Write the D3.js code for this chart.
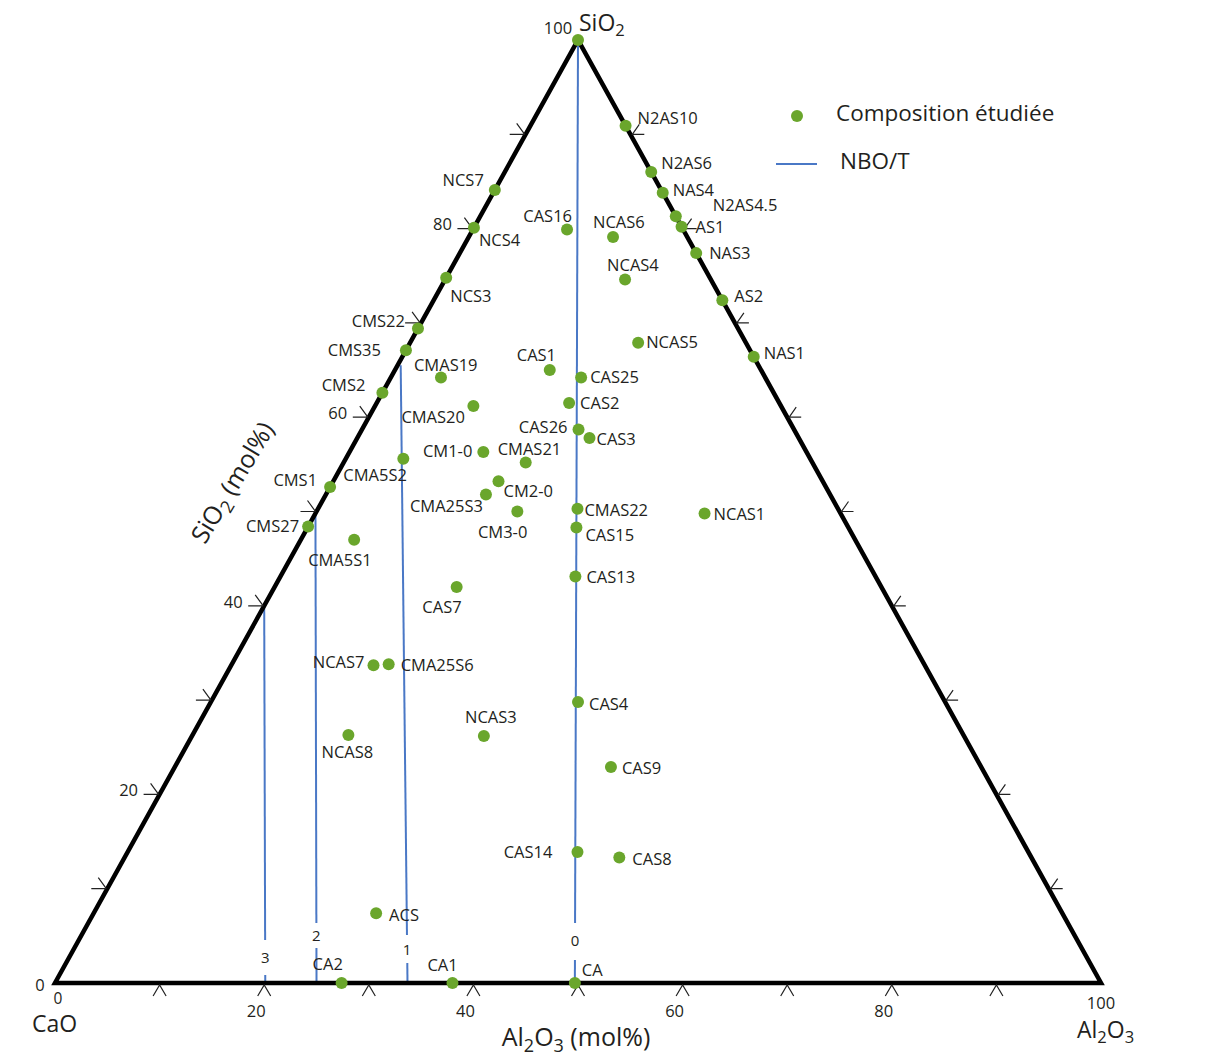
<!DOCTYPE html>
<html><head><meta charset="utf-8">
<script src="https://cdn.jsdelivr.net/npm/d3@7"></script>
<style>
html,body{margin:0;padding:0;background:#fff;}
svg{display:block;font-family:"Open Sans",sans-serif;}
</style></head>
<body>
<svg id="chart" width="1208" height="1057"></svg>
<script>
// ---------- DATA ----------
const names = ["SiO2","N2AS10","N2AS6","NAS4","N2AS4.5","AS1","NAS3","AS2","NAS1",
  "NCS7","NCS4","NCS3","CMS22","CMS35","CMS2","CMS1","CMS27",
  "CAS16","NCAS6","NCAS4","NCAS5","CAS1","CAS25","CMAS19","CMAS20","CAS2","CAS26","CAS3",
  "CM1-0","CMAS21","CMA5S2","CM2-0","CMA25S3","CM3-0","CMAS22","CAS15","CAS13","NCAS1",
  "CMA5S1","CAS7","NCAS7","CMA25S6","NCAS8","NCAS3","CAS4","CAS9","CAS14","CAS8","ACS",
  "CA2","CA1","CA"];
const sio2 = [100,90.9,86.0,83.8,81.3,80.2,77.4,72.4,66.4,
  84.1,80.1,74.8,69.4,67.1,62.6,52.6,48.4,
  79.9,79.1,74.6,67.9,65.0,64.2,64.2,61.2,61.5,58.7,57.8,
  56.3,55.2,55.6,53.2,51.8,50.0,50.3,48.3,43.1,49.8,
  47.0,42.0,33.7,33.8,26.3,26.2,29.8,22.9,13.9,13.3,7.4,
  0,0,0];
const al2o3 = [0,9.1,14.0,16.2,18.7,19.8,22.6,27.6,33.6,
  0,0,0,0,0,0,0,0,
  9.0,13.8,17.2,21.8,14.8,18.2,4.8,9.4,18.4,20.7,22.2,
  12.8,17.4,5.5,15.8,15.3,19.2,24.8,25.7,28.2,37.2,
  5.1,17.4,13.6,15.0,14.9,27.9,35.1,41.7,43.0,47.3,27.0,
  27.4,38.0,49.7];
const cao = [0,0,0,0,0,0,0,0,0,
  15.9,19.9,25.2,30.6,32.9,37.4,47.4,51.6,
  11.1,7.1,8.2,10.3,20.2,17.6,31.0,29.4,20.1,20.6,20.0,
  30.9,27.4,38.9,31.0,32.9,30.8,24.9,26.0,28.7,13.0,
  47.9,40.6,52.7,51.2,58.8,45.9,35.1,35.4,43.1,39.4,65.6,
  72.6,62.0,50.3];
// NBO/T iso-lines: value, top end [SiO2, Al2O3], bottom end [SiO2, Al2O3]
const nboValues = [0,1,2,3];
const nboTop = [[100,0],[65.5,0.3],[49.8,0],[40,0]];
const nboBottom = [[0,49.7],[0,33.7],[0,25],[0,20.1]];
const tickValues = [0,20,40,60,80,100];
const minorTicks = [10,20,30,40,50,60,70,80,90];
const legendItems = ["Composition étudiée","NBO/T"];

// ---------- LAYOUT ----------
const svg = d3.select("#chart");
const xScale = d3.scaleLinear().domain([0,100]).range([55,1101]);
const yScale = d3.scaleLinear().domain([0,100]).range([983,40]);
const proj = (s,a) => [xScale(a + s/2), yScale(s)];
const txtColor = "#231f20";
const green = "#6aa62c";
const blue = "#4a78c6";

const labelPos = {
 "N2AS10":[12,-8,"start"],"N2AS6":[10,-9,"start"],"NAS4":[10,-3,"start"],"N2AS4.5":[37,-11,"start"],
 "AS1":[14,1,"start"],"NAS3":[13,0,"start"],"AS2":[12,-4,"start"],"NAS1":[10,-4,"start"],
 "NCS7":[-11,-10,"end"],"NCS4":[5,13,"start"],"NCS3":[4,19,"start"],"CMS22":[-13,-7,"end"],
 "CMS35":[-25,0,"end"],"CMS2":[-17,-7,"end"],"CMS1":[-13,-7,"end"],"CMS27":[-9,0,"end"],
 "CAS16":[5,-13,"end"],"NCAS6":[-20,-15,"start"],"NCAS4":[-18,-14,"start"],"NCAS5":[8,0,"start"],
 "CAS1":[-33,-15,"start"],"CAS25":[9,0,"start"],"CMAS19":[-27,-12,"start"],"CMAS20":[-72,11,"start"],
 "CAS2":[11,0,"start"],"CAS26":[-11,-2,"end"],"CAS3":[7,1,"start"],"CM1-0":[-11,-1,"end"],
 "CMAS21":[-28,-13,"start"],"CMA5S2":[-60,17,"start"],"CM2-0":[5,10,"start"],"CMA25S3":[-3,12,"end"],
 "CM3-0":[10,21,"end"],"CMAS22":[7,2,"start"],"CAS15":[9,8,"start"],"CAS13":[11,1,"start"],
 "NCAS1":[9,1,"start"],"CMA5S1":[-46,20,"start"],"CAS7":[5,20,"end"],"NCAS7":[-9,-3,"end"],
 "CMA25S6":[12,1,"start"],"NCAS8":[-1,17,"middle"],"NCAS3":[7,-19,"middle"],"CAS4":[11,2,"start"],
 "CAS9":[11,1,"start"],"CAS14":[-25,0,"end"],"CAS8":[13,2,"start"],"ACS":[13,2,"start"],
 "CA2":[-29,-19,"start"],"CA1":[-25,-18,"start"],"CA":[7,-13,"start"]
};

// ---------- NBO/T lines ----------
// gap (in SiO2 %) where the value label sits
const nboGap = {0:[6.36,2.44,4.45],1:[5.09,2.12,3.5],2:[6.36,3.71,4.98],3:[4.56,0.85,2.65]};
const lerp = (top,bot,s) => { const t=(s-bot[0])/(top[0]-bot[0]); return [s, bot[1]+t*(top[1]-bot[1])]; };
const gN = svg.append("g");
nboValues.forEach((n,i)=>{
  const top=nboTop[i], bot=nboBottom[i], g=nboGap[n];
  const p1=lerp(top,bot,g[0]), p2=lerp(top,bot,g[1]), pl=lerp(top,bot,g[2]);
  const line=d3.line();
  gN.append("path").attr("d",line([proj(...top),proj(...p1)])).attr("stroke",blue).attr("stroke-width",2).attr("fill","none");
  gN.append("path").attr("d",line([proj(...p2),proj(...bot)])).attr("stroke",blue).attr("stroke-width",2).attr("fill","none");
  const pp=proj(...pl);
  gN.append("text").attr("x",pp[0]).attr("y",pp[1]).attr("dy","0.35em").attr("text-anchor","middle")
    .attr("font-size",15).attr("fill",txtColor).text(n);
});

// ---------- Triangle ----------
const C=proj(0,0), A=proj(0,100), S=proj(100,0);
svg.append("path").attr("d",d3.line()([C,A,S,C])+"Z").attr("fill","none")
  .attr("stroke","#000").attr("stroke-width",4.5).attr("stroke-linejoin","miter");

// ticks
const gT = svg.append("g").attr("stroke","#222").attr("stroke-width",1.2).attr("fill","none");
minorTicks.forEach(v=>{
  const [bx,by]=proj(0,v);
  gT.append("path").attr("d",`M${bx-6.5},${by+13}L${bx},${by+2}L${bx+6.5},${by+13}`);
  const [lx,ly]=proj(v,0);
  gT.append("path").attr("d",`M${lx-16},${ly}L${lx-1},${ly}M${lx-9},${ly-11}L${lx-1},${ly}`);
  const [rx,ry]=proj(v,100-v);
  gT.append("path").attr("d",`M${rx+14},${ry}L${rx+2},${ry}L${rx+9},${ry-10}`);
});

// tick labels
const gL = svg.append("g").attr("fill",txtColor).attr("font-size",16.5);
tickValues.forEach(v=>{
  const [bx,by]=proj(0,v);
  let dx = (v===0)?3:(v===100?0:-8), y = (v===0)?by+16:(v===100?by+20:by+28);
  gL.append("text").attr("x",bx+dx).attr("y",y).attr("dy","0.35em").attr("text-anchor","middle")
    .attr("font-size", v===0?15.5:16.5).text(v);
  const [lx,ly]=proj(v,0);
  let ldx=-31, ldy=-4;
  if(v===0){ldx=-15;ldy=2;} if(v===100){ldx=-20;ldy=-12;}
  gL.append("text").attr("x",lx+ldx).attr("y",ly+ldy).attr("dy","0.35em").attr("text-anchor","middle").text(v);
});

// axis titles with subscripts
function chemText(x,y,parts,size,anchor){
  const t=svg.append("text").attr("x",x).attr("y",y).attr("font-size",size).attr("fill",txtColor).attr("text-anchor",anchor||"start");
  const sh=size*0.22;
  let shifted=false;
  parts.forEach(p=>{
    if(typeof p==="string"){
      const ts=t.append("tspan").text(p);
      if(shifted){ts.attr("dy",-sh); shifted=false;}
    } else {
      const ts=t.append("tspan").attr("font-size",size*0.72).text(p[0]);
      ts.attr("dy", shifted?0:sh); shifted=true;
    }
  });
  return t;
}
chemText(S[0]+1,S[1]-9,["SiO",["2"]],23);
chemText(C[0]-23,C[1]+49,["CaO"],23);
chemText(A[0]-24,A[1]+55,["Al",["2"],"O",["3"]],23);
chemText(576,1046,["Al",["2"],"O",["3"]," (mol%)"],25,"middle");
const t2 = chemText(0,0,["SiO",["2"]," (mol%)"],25,"middle");
t2.attr("transform","translate(240,487) rotate(-59)");

// ---------- points ----------
const pts = names.map((nm,i)=>({name:nm,s:sio2[i],a:al2o3[i],c:cao[i]}));
svg.append("g").selectAll("circle").data(pts).join("circle")
  .attr("cx",d=>proj(d.s,d.a)[0]).attr("cy",d=>proj(d.s,d.a)[1]).attr("r",6).attr("fill",green);
svg.append("g").attr("fill",txtColor).attr("font-size",16.5).selectAll("text")
  .data(pts.filter(d=>labelPos[d.name])).join("text")
  .attr("x",d=>proj(d.s,d.a)[0]+labelPos[d.name][0])
  .attr("y",d=>proj(d.s,d.a)[1]+labelPos[d.name][1])
  .attr("dy","0.35em").attr("text-anchor",d=>labelPos[d.name][2]).text(d=>d.name);

// ---------- legend ----------
const lg = svg.append("g");
lg.append("circle").attr("cx",797).attr("cy",116).attr("r",6).attr("fill",green);
lg.append("text").attr("x",836).attr("y",113).attr("dy","0.35em").attr("font-size",22.5).attr("fill",txtColor).text(legendItems[0]);
lg.append("line").attr("x1",776).attr("x2",817).attr("y1",164).attr("y2",164).attr("stroke",blue).attr("stroke-width",2);
lg.append("text").attr("x",840).attr("y",161).attr("dy","0.35em").attr("font-size",22.5).attr("fill",txtColor).text(legendItems[1]);
</script>
</body></html>
